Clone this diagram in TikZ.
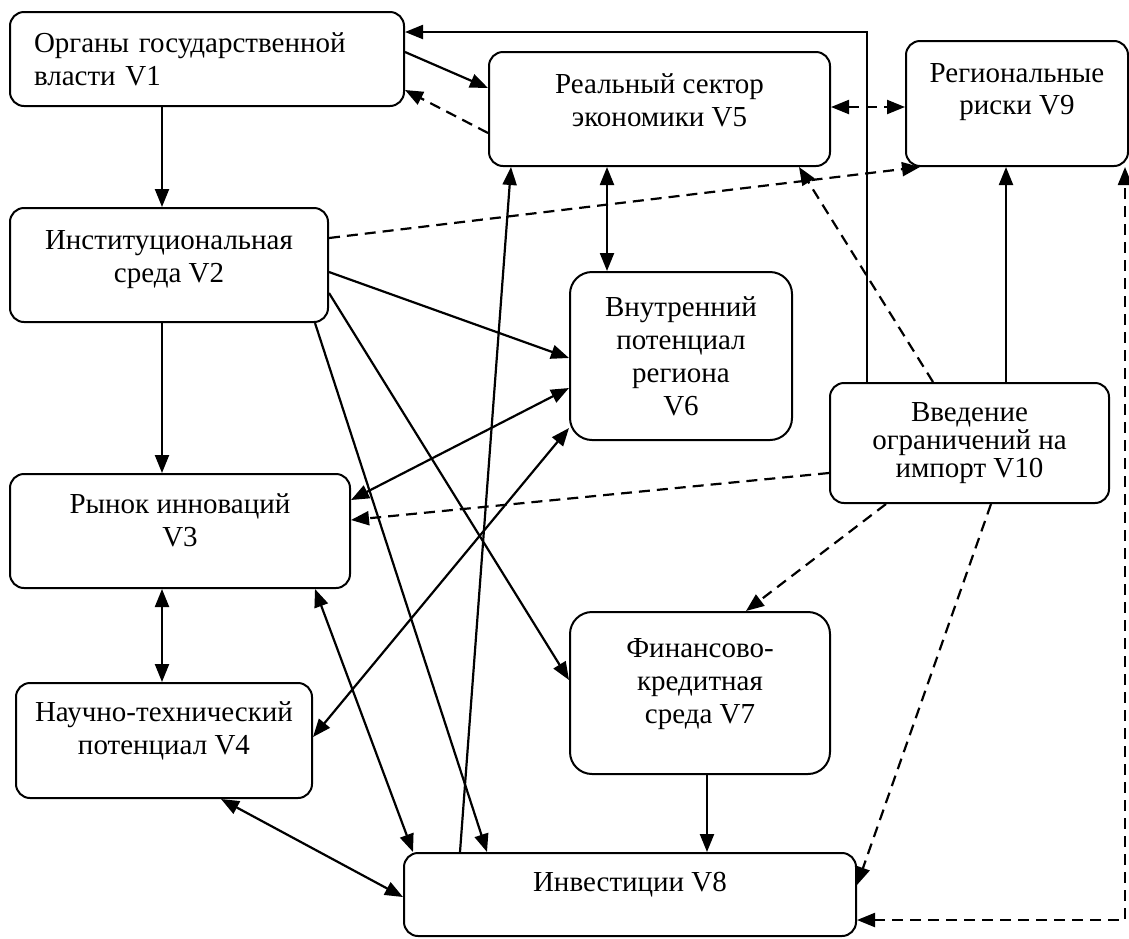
\documentclass[tikz,border=0pt]{standalone}
\usepackage{fontspec}
\setmainfont{Liberation Serif}
\usetikzlibrary{arrows.meta}

\newcommand{\padbelow}[1]{\rule[-#1]{0pt}{#1}}

\begin{document}
\begin{tikzpicture}[x=.5pt, y=-.5pt,
        >={Triangle[length=9pt,width=7pt]},
        box/.style={draw, line width=1pt, rounded corners=7pt, align=center,
            inner sep=0pt, font=\fontsize{14.5pt}{16.5pt}\selectfont},
        link/.style={line width=1.1pt, ->},
        dlink/.style={link, dash pattern=on 5.5pt off 3.5pt}
    ]
    \useasboundingbox (0,0) rectangle (1129,938);

    \node[box, minimum width=197pt, minimum height=47pt, text width=173pt, align=left]
        (v1) at (207,59) {Органы государственной\\власти V1};
    \node[box, minimum width=159pt, minimum height=57pt]
        (v2) at (169,265) {Институциональная\\среда V2\padbelow{8.5pt}};
    \node[box, minimum width=170pt, minimum height=57pt]
        (v3) at (180,531) {Рынок инноваций\\V3\padbelow{10.5pt}};
    \node[box, minimum width=148pt, minimum height=57.5pt]
        (v4) at (164,740.5) {Научно-технический\\потенциал V4\padbelow{12.5pt}};
    \node[box, minimum width=170.5pt, minimum height=57pt]
        (v5) at (659.5,109) {Реальный сектор\\экономики V5\padbelow{8.5pt}};
    \node[box, rounded corners=11pt, minimum width=111pt, minimum height=84pt]
        (v6) at (681,356) {Внутренний\\потенциал\\региона\\V6};
    \node[box, rounded corners=11pt, minimum width=130pt, minimum height=81pt]
        (v7) at (700,693) {Финансово-\\кредитная\\среда V7\padbelow{12.5pt}};
    \node[box, minimum width=226pt, minimum height=41.5pt]
        (v8) at (630,894.5) {Инвестиции V8\padbelow{12.5pt}};
    \node[box, minimum width=111pt, minimum height=62.5pt]
        (v9) at (1017,103.5) {Региональные\\риски V9\padbelow{14.5pt}};
    \node[box, minimum width=139.5pt, minimum height=60pt,
        font=\fontsize{14.5pt}{14pt}\selectfont]
        (v10) at (969.5,443) {Введение\\ограничений на\\импорт V10};

    % V1
    \draw[link] ([xshift=-22.5pt]v1.south) -- ([xshift=-22.5pt]v1.south |- v2.north);
    \draw[link] ([yshift=3.5pt]v1.east) -- ([yshift=10.5pt]v5.west);
    \draw[dlink] ([yshift=-12pt]v5.west) -- ([yshift=-15.5pt]v1.east);
    \draw[link] ([xshift=-51.25pt]v10.north) |- ([yshift=13.5pt]v1.east);

    % V2
    \draw[dlink] ([yshift=13.5pt]v2.east) -- ([xshift=7.5pt]v9.south west);
    \draw[link] ([yshift=-3.5pt]v2.east) -- ([yshift=-1pt]v6.west);
    \draw[link] ([yshift=-14pt]v2.east) -- ([yshift=6.5pt]v7.west);
    \draw[link] ([xshift=-7pt]v2.south east) -- ([xshift=42pt]v8.north west);
    \draw[link] ([xshift=-3.5pt]v2.south) -- ([xshift=-3.5pt]v2.south |- v3.north);

    % V3, V4
    \draw[link, <->] ([yshift=15.5pt]v3.east) -- ([yshift=-16pt]v6.west);
    \draw[link, <->] ([xshift=-9pt]v3.south) -- ([xshift=-9pt]v3.south |- v4.north);
    \draw[link, <->] ([xshift=-18pt]v3.south east) -- ([xshift=5pt]v8.north west);
    \draw[link, <->] ([yshift=1.75pt]v4.east) -- ([yshift=6.5pt]v6.south west);
    \draw[link, <->] ([xshift=28.5pt]v4.south) -- ([yshift=-1.25pt]v8.west);

    % V5 .. V8
    \draw[dlink, <->] ([yshift=1pt]v5.east) -- ([yshift=1pt]v5.east -| v9.west);
    \draw[link, <->] ([xshift=-26.25pt]v5.south) -- ([xshift=-26.25pt]v5.south |- v6.north);
    \draw[link] ([xshift=28.5pt]v8.north west) -- ([xshift=11.5pt]v5.south west);
    \draw[link] ([xshift=3.5pt]v7.south) -- ([xshift=3.5pt]v7.south |- v8.north);

    % V10
    \draw[link] ([xshift=18.25pt]v10.north) -- ([xshift=18.25pt]v10.north |- v9.south);
    \draw[dlink] ([xshift=52pt]v10.north west) -- ([xshift=-16pt]v5.south east);
    \draw[dlink] ([yshift=-15pt]v10.west) -- ([yshift=5.5pt]v3.east);
    \draw[dlink] ([xshift=28.5pt]v10.south west) -- ([xshift=88.5pt]v7.north west);
    \draw[dlink] ([xshift=81pt]v10.south west) -- ([yshift=4.75pt]v8.east);
    \draw[dlink, <->] ([yshift=-12.75pt]v8.east) -| ([xshift=-2pt]v9.south east);
\end{tikzpicture}
\end{document}
